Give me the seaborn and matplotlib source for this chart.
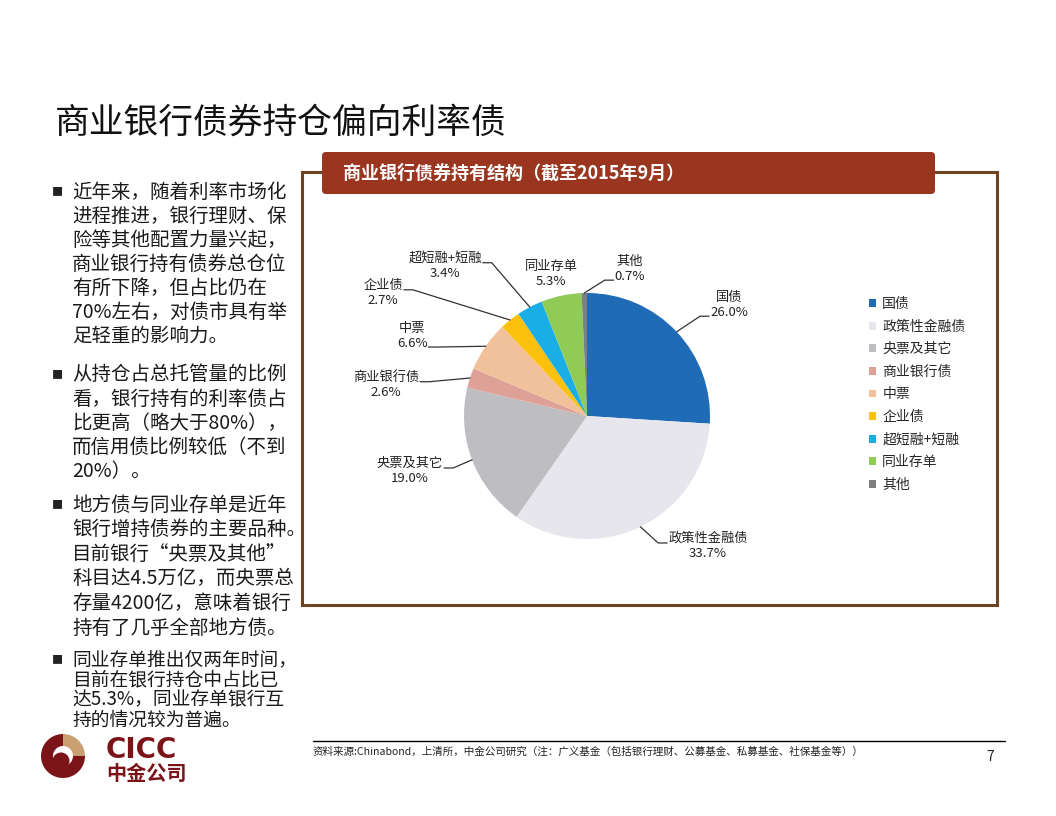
import numpy as np
import matplotlib
matplotlib.use("Agg")
import matplotlib.pyplot as plt
import seaborn as sns
from matplotlib.patches import FancyBboxPatch, Wedge, Circle

# 样式
sns.set_theme(style="white")
plt.rcParams['font.family'] = ['Noto Sans CJK SC', 'DejaVu Sans']
plt.rcParams['axes.unicode_minus'] = False

W, H = 1056, 816

# 数据：商业银行债券持有结构（截至2015年9月）
categories = ['国债', '政策性金融债', '央票及其它', '商业银行债', '中票',
              '企业债', '超短融+短融', '同业存单', '其他']
shares = [26.0, 33.7, 19.0, 2.6, 6.6, 2.7, 3.4, 5.3, 0.7]
colors = ['#1F6BB5', '#E6E6EC', '#BEBEC2', '#DDA198', '#F0C19A',
          '#FCC10D', '#1AADE6', '#8FCB55', '#7F7F7F']

# 标签位置（角度, 半径倍数）与引导线连接方式
label_polar = [(38.0, 1.465), (-47.1, 1.444), (197.3, 1.507), (171.2, 1.654),
               (155.4, 1.564), (148.9, 1.937), (133.4, 1.68), (104.2, 1.191),
               (73.7, 1.245)]
leader_attach = [('left', 2), ('left', 1), ('right', 1), ('right', 1),
                 ('right', 2), ('right', 1), ('right', 1), None, ('left', 2)]

title = '商业银行债券持仓偏向利率债'
chart_title = '商业银行债券持有结构（截至2015年9月）'
source = ('资料来源:Chinabond，上清所，中金公司研究（注：广义基金（包括银行理财、'
          '公募基金、私募基金、社保基金等））')

bullets = [
    ['近年来，随着利率市场化', '进程推进，银行理财、保', '险等其他配置力量兴起，',
     '商业银行持有债券总仓位', '有所下降，但占比仍在', '70%左右，对债市具有举',
     '足轻重的影响力。'],
    ['从持仓占总托管量的比例', '看，银行持有的利率债占', '比更高（略大于80%），',
     '而信用债比例较低（不到', '20%）。'],
    ['地方债与同业存单是近年', '银行增持债券的主要品种。', '目前银行“央票及其他”',
     '科目达4.5万亿，而央票总', '存量4200亿，意味着银行', '持有了几乎全部地方债。'],
    ['同业存单推出仅两年时间，', '目前在银行持仓中占比已', '达5.3%，同业存单银行互',
     '持的情况较为普遍。'],
]
bullet_top = [192, 375, 505, 660]
bullet_step = [24.0, 24.2, 24.6, 20.0]
bullet_size = [14, 14, 14, 13.5]

fig = plt.figure(figsize=(W / 100, H / 100), dpi=100)
ax = fig.add_axes([0, 0, 1, 1])

# 饼图
cx, cy, R = 587, H - 416, 123
palette = sns.color_palette(colors)
wedges, _ = ax.pie(shares, colors=palette, startangle=90, counterclock=False,
                   center=(cx, cy), radius=R, wedgeprops=dict(linewidth=0))
ax.set_xlim(0, W)
ax.set_ylim(0, H)
ax.set_aspect('auto')
ax.axis('off')

label_texts = []
for cat, v, (ang, dist) in zip(categories, shares, label_polar):
    a = np.radians(ang)
    t = ax.text(cx + dist * R * np.cos(a), cy + dist * R * np.sin(a),
                f'{cat}\n{v:.1f}%', ha='center', va='center', fontsize=9.5,
                linespacing=1.25, color='#222222', multialignment='center')
    label_texts.append(t)

# 图例
ax.legend(wedges, categories, loc='upper left', bbox_to_anchor=(869, H - 297),
          bbox_transform=ax.transData, frameon=False, fontsize=10,
          handlelength=0.5, handleheight=0.5, handletextpad=0.45,
          labelspacing=0.62, borderpad=0, borderaxespad=0)

# 图表边框与标题栏
ax.plot([322, 302, 302, 997, 997, 935],
        [H - 172, H - 172, H - 605, H - 605, H - 172, H - 172],
        color='#6E4322', lw=2.2, solid_joinstyle='miter', zorder=1)
ax.add_patch(FancyBboxPatch((322, H - 194), 613, 42,
                            boxstyle='round,pad=0,rounding_size=4',
                            fc='#9A3520', ec='none', zorder=2))
ax.text(343, H - 173, chart_title, color='white', fontsize=13,
        fontweight='bold', va='center', zorder=3)

# 页面标题
ax.text(55, H - 123, title, fontsize=25, va='center', color='#111111')

# 左侧文字
for lines, top, step, fs in zip(bullets, bullet_top, bullet_step, bullet_size):
    ax.text(57, H - top, '■', fontsize=8, ha='center', va='center',
            color='#222222')
    for k, line in enumerate(lines):
        ax.text(72, H - (top + k * step), line, fontsize=fs, va='center',
                color='#1A1A1A')

# 页脚
ax.plot([313, 1005], [H - 741, H - 741], color='black', lw=1)
ax.text(313, H - 752, source, fontsize=7.6, va='center', color='#222222')
ax.text(990, H - 757, '7', fontsize=10, ha='center', va='center',
        color='#222222')

# 中金公司标志
ax.add_patch(Wedge((63, H - 756), 22, 90, 360, width=12, fc='#7A1418',
                   ec='none'))
ax.add_patch(Wedge((63, H - 756), 22, 0, 90, width=12, fc='#C9A071',
                   ec='none'))
ax.add_patch(Circle((61, H - 761), 8.5, fc='#7A1418', ec='none'))
ax.text(106, H - 750, 'CICC', fontsize=20, fontweight='bold',
        color='#7A1418', va='center', family=['DejaVu Sans'])
ax.text(106, H - 773, '中金公司', fontsize=14.5, fontweight='bold',
        color='#7A1418', va='center')

# 引导线
fig.canvas.draw()
renderer = fig.canvas.get_renderer()
inv = ax.transData.inverted()
for w, t, att in zip(wedges, label_texts, leader_attach):
    if att is None:
        continue
    side, line_no = att
    bb = t.get_window_extent(renderer).transformed(inv)
    h = bb.y1 - bb.y0
    ay = (bb.y1 - h / 4 - 4) if line_no == 1 else (bb.y0 + h / 4 - 4)
    if side == 'right':
        axp, sx = bb.x1 + 1, 9
    else:
        axp, sx = bb.x0 - 1, -9
    mid = np.radians((w.theta1 + w.theta2) / 2)
    ex, ey = cx + R * np.cos(mid), cy + R * np.sin(mid)
    ax.plot([axp, axp + sx, ex], [ay, ay, ey], color='#333333', lw=0.9)

fig.savefig('out.png', dpi=100, facecolor='white')
